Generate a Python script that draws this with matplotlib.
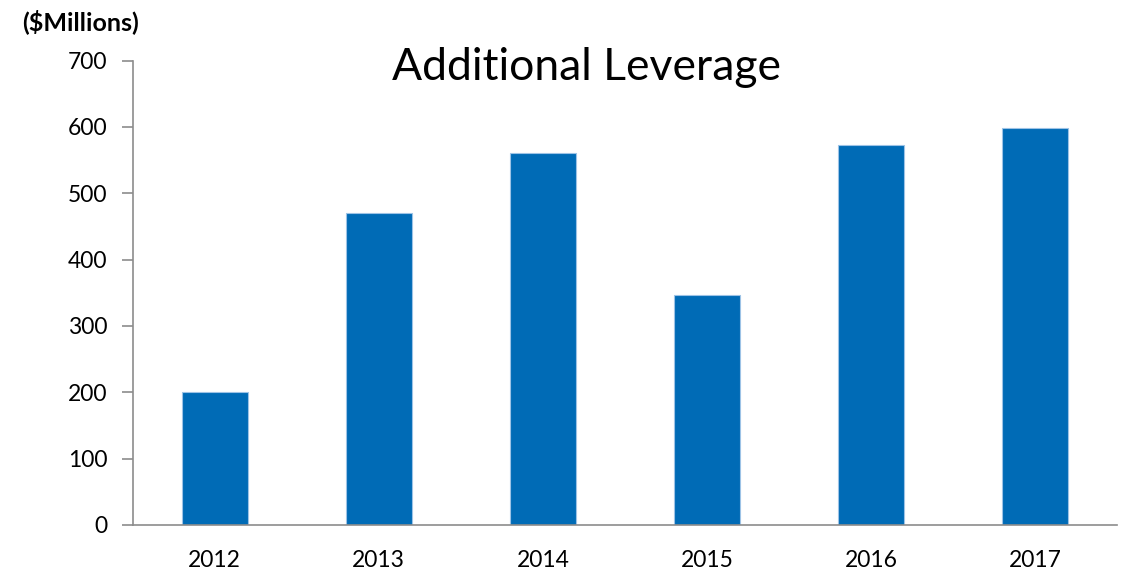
import matplotlib
matplotlib.use("Agg")
import matplotlib.pyplot as plt
import numpy as np

years = ["2012", "2013", "2014", "2015", "2016", "2017"]
leverage = [200, 470, 561, 347, 572, 599]
y_ticks = [0, 100, 200, 300, 400, 500, 600, 700]

plt.rcParams['font.family'] = ['Lato', 'DejaVu Sans']

fig = plt.figure(figsize=(11.22, 5.73), dpi=100)
ax = fig.add_axes([0.1183, 0.0838, 0.8772, 0.8106])

x = np.arange(len(years))
ax.bar(x, leverage, width=0.4, color='#006BB6', edgecolor='#9DC3E6', linewidth=0.8)

ax.set_xlim(-0.5, len(years) - 0.5)
ax.set_ylim(0, 700)
ax.set_yticks(y_ticks)
ax.set_xticks(x)
ax.set_xticklabels(years)

for side in ['top', 'right']:
    ax.spines[side].set_visible(False)
for side in ['left', 'bottom']:
    ax.spines[side].set_color('#8C8C8C')
    ax.spines[side].set_linewidth(1.2)

ax.tick_params(axis='y', direction='out', length=8, width=1.2, color='#8C8C8C',
               labelsize=16.5, pad=10)
ax.tick_params(axis='x', length=0, labelsize=16.5, pad=18)

fig.text(0.523, 0.882, "Additional Leverage", ha='center', va='center', fontsize=32)
fig.text(0.0196, 0.962, "($Millions)", ha='left', va='center', fontsize=18, fontweight='bold')

fig.savefig("out.png", dpi=100)
